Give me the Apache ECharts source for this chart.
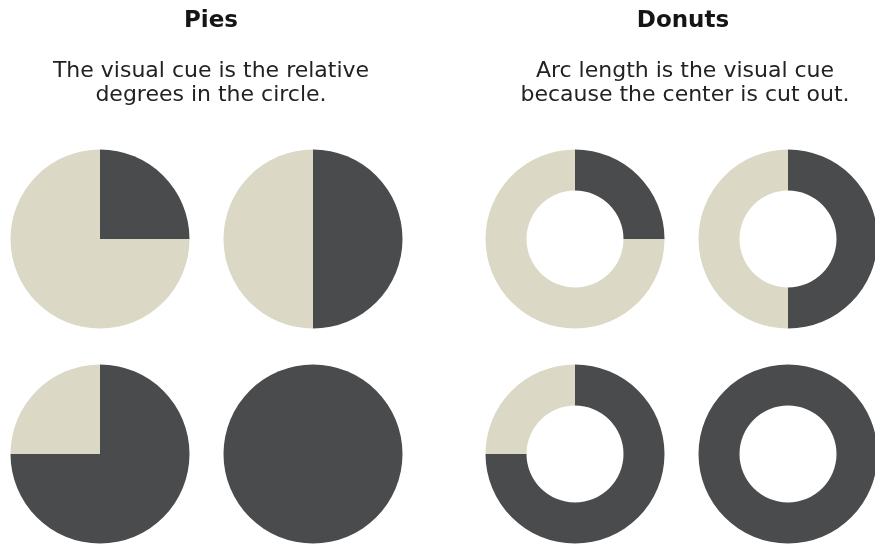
<!DOCTYPE html>
<html><head><meta charset="utf-8">
<style>html,body{margin:0;padding:0;background:#fff}#c{width:875px;height:545px}</style>
<script src="https://cdn.jsdelivr.net/npm/echarts@6/dist/echarts.min.js"></script>
</head><body><div id="c"></div>
<script>
// Data
const panelTitles = ['Pies', 'Donuts'];
const panelSubtitles = [
  ['The visual cue is the relative', 'degrees in the circle.'],
  ['Arc length is the visual cue', 'because the center is cut out.']
];
const sliceNames = ['Part', 'Rest'];
const darkShares = [25, 50, 75, 100];   // percent of circle shown dark, per chart (row-major)
const total = 100;

const DARK = '#4a4b4d', BEIGE = '#dbd8c6';
const FONT = '"DejaVu Sans", sans-serif';

const chart = echarts.init(document.getElementById('c'), null, {renderer: 'canvas'});

const pieCenters = [[100, 239], [313, 239], [100, 454], [313, 454]];
const donutCenters = [[575, 239], [788, 239], [575, 454], [788, 454]];
const R = 89.5, RIN = 48.5;

function makeSeries(centers, radius) {
  return darkShares.map((v, i) => ({
    type: 'pie',
    center: centers[i],
    radius: radius,
    startAngle: 90,
    clockwise: true,
    silent: true,
    label: {show: false},
    labelLine: {show: false},
    stillShowZeroSum: false,
    itemStyle: {borderWidth: 0},
    emphasis: {disabled: true},
    data: [
      {name: sliceNames[0], value: v, itemStyle: {color: DARK}},
      {name: sliceNames[1], value: total - v, itemStyle: {color: BEIGE}}
    ]
  }));
}

const titleX = [211, 683];
const graphics = [];
panelTitles.forEach((t, i) => {
  graphics.push({type: 'text', x: titleX[i], y: 21, style: {text: t, align: 'center', verticalAlign: 'middle', font: 'bold 23px ' + FONT, fill: '#151515'}});
  panelSubtitles[i].forEach((s, j) => {
    graphics.push({type: 'text', x: titleX[i] + (i ? 2 : 0), y: 71 + j * 24.5, style: {text: s, align: 'center', verticalAlign: 'middle', font: '22px ' + FONT, fill: '#222'}});
  });
});

chart.setOption({
  animation: false,
  backgroundColor: '#fff',
  graphic: graphics,
  series: [...makeSeries(pieCenters, [0, R]), ...makeSeries(donutCenters, [RIN, R])]
});
</script></body></html>
